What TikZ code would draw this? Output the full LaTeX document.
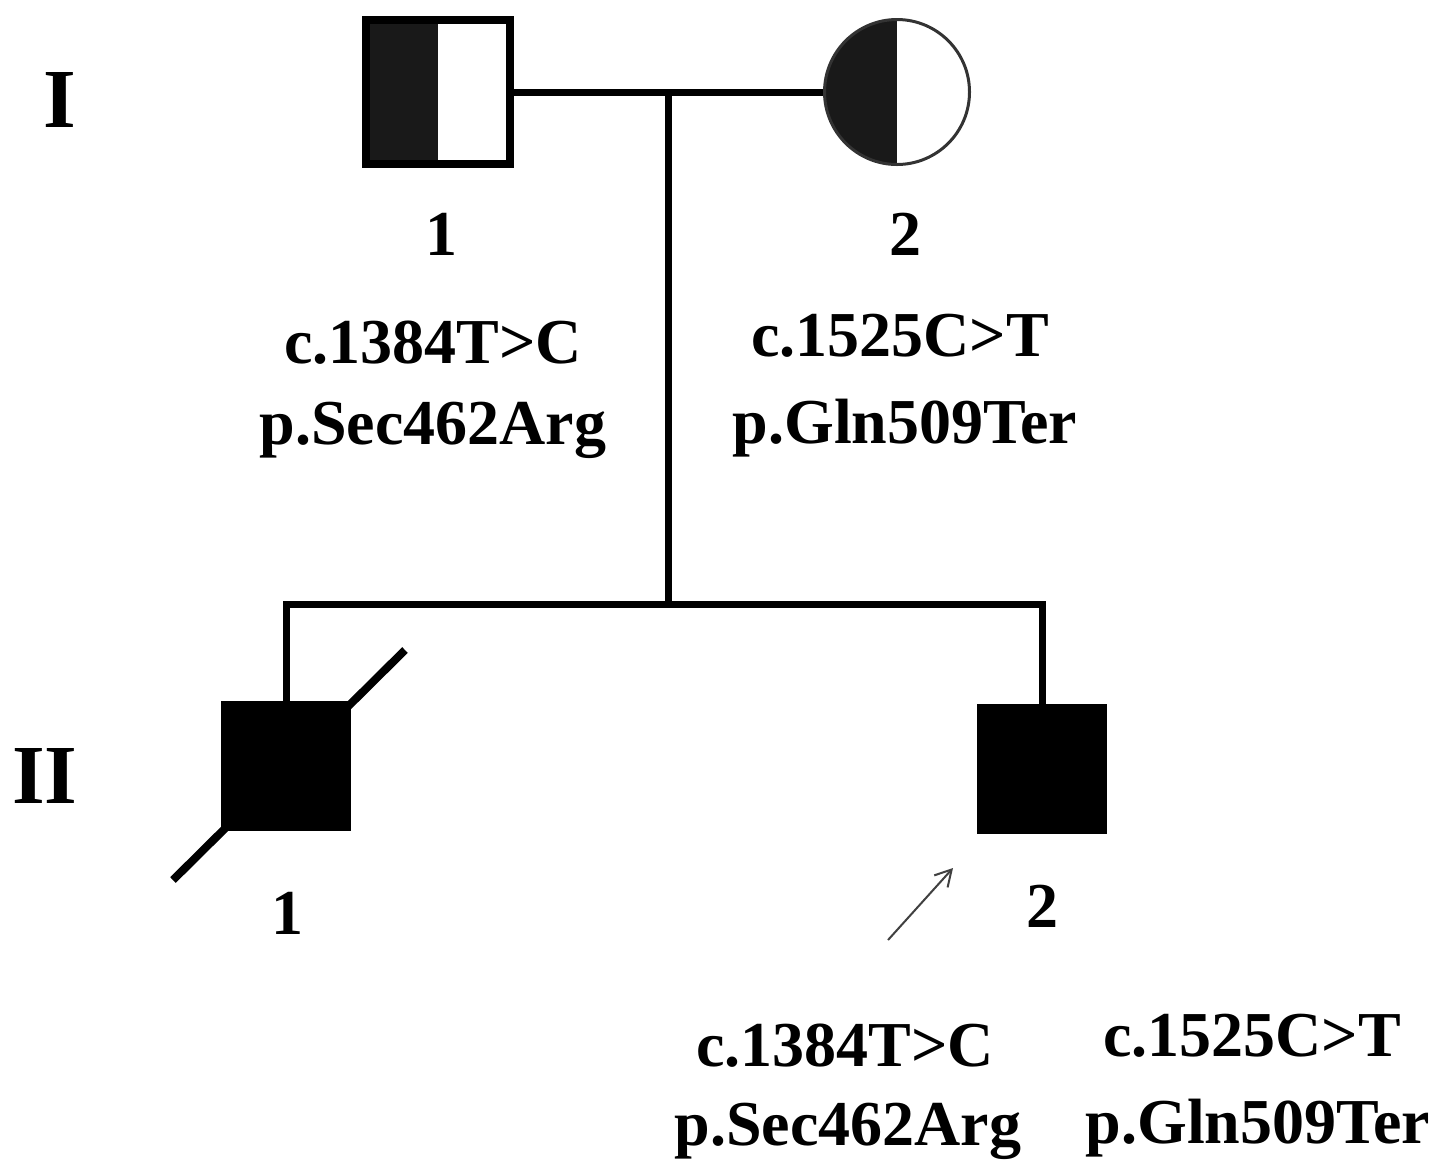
\documentclass[tikz,border=0pt]{standalone}
\usepackage{fontspec}
\setmainfont{Liberation Serif}
\usetikzlibrary{arrows.meta,calc}
\tikzset{
  lbl/.style={font=\fontsize{32}{34}\selectfont\bfseries, inner sep=0pt, align=center},
  gen/.style={font=\fontsize{42}{44}\selectfont\bfseries, inner sep=0pt},
  num/.style={font=\fontsize{32}{34}\selectfont\bfseries, inner sep=0pt},
  conn/.style={line width=3.5pt, line join=miter},
  male/.style={draw, rectangle, line width=4pt, minimum size=72pt, inner sep=0pt},
  affmale/.style={draw, fill=black, rectangle, line width=0.5pt, minimum size=64.5pt, inner sep=0pt},
  halfleft/.style={path picture={\fill[black!90] (path picture bounding box.south west) rectangle (path picture bounding box.north);}},
  female/.style={draw=black!80, circle, line width=1.5pt, minimum size=72.5pt, inner sep=0pt},
  proband/.style={draw=black!75, line width=1pt, -{Straight Barb[length=8pt,width=9pt,line width=1pt]}}
}
\begin{document}
\begin{tikzpicture}[x=0.5pt,y=-0.5pt]
\useasboundingbox (0,0) rectangle (1440,1169);
% generation labels
\node[gen] (gI) at (60,100) {I};
\node[gen] (gII) at (45,776) {II};
% generation I
\node[male,halfleft] (I1) at (438,92) {};
\node[female,halfleft] (I2) at (897,92) {};
\draw[conn] (I1.east) -- (I2.west);
\coordinate (mid) at (668,92);
\coordinate (sib) at (668,604);
\draw[conn] (mid) -- (sib);
% generation II
\node[affmale] (II1) at (286,766) {};
\node[affmale] (II2) at (1042,769) {};
\draw[conn] (II1.north) |- (sib) -| (II2.north);
% deceased slash
\draw[line width=4pt] ($(II1.center)+(-113,114)$) -- ($(II1.center)+(119,-116)$);
% proband arrow
\coordinate (pa) at (888,940);
\coordinate (pb) at (953,868);
\draw[proband] (pa) -- (pb);
% numbers
\node[num] (n11) at (441,234) {1};
\node[num] (n12) at (905,234) {2};
\node[num] (n21) at (287,913) {1};
\node[num] (n22) at (1042,906) {2};
% variants
\node[lbl] (v11a) at (433,343) {c.1384T>C};
\node[lbl] (v11b) at (433,430) {p.Sec462Arg};
\node[lbl] (v12a) at (900,336) {c.1525C>T};
\node[lbl] (v12b) at (905,428) {p.Gln509Ter};
\node[lbl] (v21a) at (845,1046) {c.1384T>C};
\node[lbl] (v21b) at (848,1131) {p.Sec462Arg};
\node[lbl] (v22a) at (1252,1036) {c.1525C>T};
\node[lbl] (v22b) at (1258,1128) {p.Gln509Ter};
\end{tikzpicture}
\end{document}
